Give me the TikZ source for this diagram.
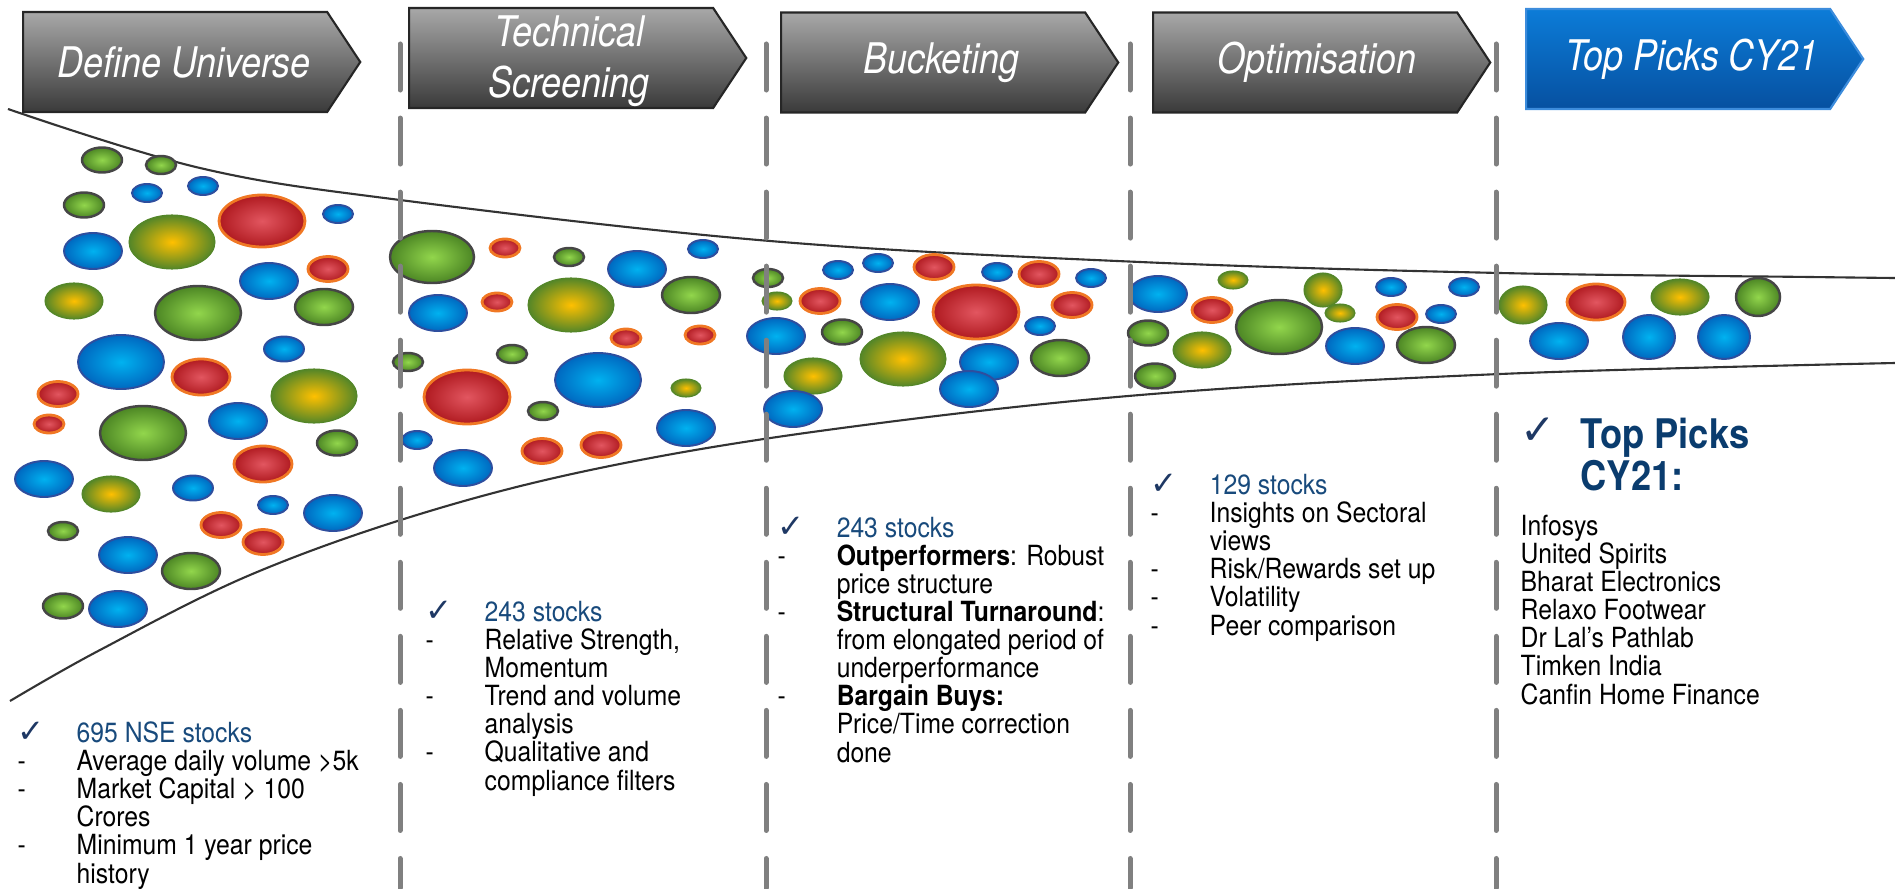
\documentclass[tikz,border=0pt]{standalone}
\usepackage{fontspec}
\setmainfont{TeX Gyre Heros}
\newfontfamily\bodyfont{TeX Gyre Heros}[FakeStretch=0.89]
\newfontfamily\headfont{TeX Gyre Heros}[FakeStretch=0.85]
\newfontfamily\symfont{DejaVu Sans}
\usetikzlibrary{shapes.symbols}

\definecolor{stagetop}{RGB}{168,168,168}
\definecolor{stagebot}{RGB}{58,58,58}
\definecolor{picktop}{RGB}{12,124,216}
\definecolor{pickbot}{RGB}{6,80,160}
\definecolor{pickedge}{RGB}{60,140,220}
\definecolor{sepgray}{RGB}{128,128,128}
\definecolor{stockblue}{RGB}{24,74,124}
\definecolor{picknavy}{RGB}{10,60,110}
\definecolor{checknavy}{RGB}{30,56,100}
\definecolor{bubbin}{RGB}{0,178,240}
\definecolor{bubbout}{RGB}{0,104,192}
\definecolor{bubbedge}{RGB}{46,78,158}
\definecolor{bubgin}{RGB}{146,214,76}
\definecolor{bubgout}{RGB}{76,134,36}
\definecolor{bubgedge}{RGB}{70,70,70}
\definecolor{bubyin}{RGB}{255,192,0}
\definecolor{bubyout}{RGB}{84,134,40}
\definecolor{bubrin}{RGB}{226,86,96}
\definecolor{bubrout}{RGB}{176,26,32}
\definecolor{bubredge}{RGB}{240,120,36}

\newcommand\chk{{\symfont\fontsize{9.2}{7.97}\selectfont\color{checknavy}\symbol{"2713}}}
\newcommand\itm[2]{\makebox[0.59cm][l]{#1}#2}

\begin{document}
\begin{tikzpicture}[x=0.01cm, y=-0.01cm,
		stage/.style={
			signal, signal to=east, signal pointer angle=113,
			draw=black!85, line width=0.6pt,
			top color=stagetop, bottom color=stagebot,
			minimum width=3.37cm, minimum height=1cm,
			inner sep=0pt, anchor=west
		},
		finalstage/.style={stage, draw=pickedge, top color=picktop, bottom color=pickbot},
		stagetext/.style={inner sep=0pt, text=white, align=center,
			font=\headfont\itshape\fontsize{12}{14.6}\selectfont},
		infotext/.style={anchor=base west, inner sep=0pt, align=left,
			font=\bodyfont\fontsize{7.9}{7.97}\selectfont},
		sepline/.style={draw=sepgray, line width=0.05cm, line cap=round,
			dash pattern=on 0.46cm off 0.28cm},
		funnel/.style={draw=black!80, line width=0.6pt},
		bubb/.style={draw=bubbedge, line width=0.55pt, inner color=bubbin, outer color=bubbout},
		bubg/.style={draw=bubgedge, line width=0.7pt, inner color=bubgin, outer color=bubgout},
		buby/.style={draw=bubyout, line width=0.3pt, inner color=bubyin, outer color=bubyout},
		bubr/.style={draw=bubredge, line width=0.8pt, inner color=bubrin, outer color=bubrout}
	]
	\useasboundingbox (0,0) rectangle (1895,888);

	% funnel
	\draw[funnel] plot[smooth, tension=0.6] coordinates {(8,109) (200,168) (400,200) (770,241) (1140,262) (1500,273) (1810,277) (1895,278)};
	\draw[funnel] plot[smooth, tension=0.6] coordinates {(10,701) (100,650) (250,575) (420,514) (600,468) (827,430) (1140,395) (1500,374) (1895,363)};

	% stocks
	\foreach \bx/\by/\rx/\ry/\bt in {
		102/160/20/12.5/g, 161/165/15/9/g, 147/193/15/9/b, 203/186/15/9/b, 84/205/20/12.5/g,
		262/221/43/26/r, 338/214/15/9/b, 93/251/29/18/b, 172/242/43/27/y, 269/281/29/18/b,
		328/269/20/12.5/r, 74/301/29/18/y, 198/313/43/27/g, 324/307/29/18/g, 121/362/43/27/b,
		284/349/20/12.5/b, 201/377/29/18/r, 314/396/43/27/y, 58/394/20/12.5/r, 49/424/15/9/r,
		143/433/43/27/g, 238/421/29/18/b, 337/443/20/12.5/g, 263/464/29/18/r, 44/479/29/18/b,
		111/494/29/18/y, 193/488/20/12.5/b, 273/505/15/9/b, 333/513/29/18/b, 221/525/20/12.5/r,
		263/542/20/12.5/r, 63/531/15/9/g, 128/555/29/18/b, 191/571/29/18/g, 63/606/20/12.5/g,
		118/609/29/18/b,
		432/257/42/26/g, 505/248/15/9/r, 569/257/15/9/g, 637/269/29/18/b, 703/249/15/9/b,
		438/313/29/18/b, 497/302/15/9/r, 571/305/43/27/y, 691/295/29/18/g, 626/338/15/9/r,
		700/335/15/9/r, 512/354/15/9/g, 408/362/15/9/g, 467/397/43/27/r, 598/380/43/27/b,
		686/388/15/9/y, 543/411/15/9/g, 417/440/15/9/b, 686/428/29/18/b, 542/451/20/12.5/r,
		601/445/20/12.5/r, 463/468/29/18/b,
		768/278/15/9/g, 838/270/15/9/b, 878/263/15/9/b, 934/267/20/12.5/r, 997/272/15/9/b,
		1039/274/20/12.5/r, 1091/278/15/9/b, 777/301/15/9/y, 820/301/20/12.5/r, 890/302/29/18/b,
		976/312/43/27/r, 1072/305/20/12.5/r, 1040/326/15/9/b, 776/336/29/18/b, 842/332/20/12.5/g,
		903/359/43/27/y, 989/362/29/18/b, 1060/358/29/18/g, 813/376/29/18/y, 969/389/29/18/b,
		793/409/29/18/b,
		1158/294/29/18/b, 1233/280/15/9/y, 1212/310/20/12.5/r, 1148/333/20/12.5/g, 1202/350/29/18/y,
		1279/327/43/27/g, 1323/290/19/17/y, 1340/313/15/9/y, 1391/287/15/9/b, 1464/287/15/9/b,
		1397/317/20/12.5/r, 1441/314/15/9/b, 1355/346/29/18/b, 1426/345/29/18/g, 1155/376/20/12.5/g,
		1523/305/24/19/y, 1596/302/29/18/r, 1680/297/29/18/y, 1758/297/22/19/g, 1559/341/29/18/b,
		1649/337/26/22/b, 1724/337/26/22/b}
		\path[bub\bt] (\bx,\by) ellipse [x radius=\rx, y radius=\ry];

	% separators
	\foreach \xs in {400,766,1130,1496}
		\draw[sepline] (\xs,44) -- (\xs,888);

	% stages
	\node[stage] (universe) at (22,62) {};
	\node[stage] (screening) at (408,58) {};
	\node[stage] (bucketing) at (780,62.5) {};
	\node[stage] (optimisation) at (1152,62.5) {};
	\node[finalstage] (toppicks) at (1525,59) {};

	\node[stagetext] (universelbl) at ([xshift=0.09cm] universe.center) {Define Universe};
	\node[stagetext] (screeninglbl) at ([xshift=0.08cm, yshift=-0.03cm] screening.center) {Technical\\Screening};
	\node[stagetext] (bucketinglbl) at ([xshift=0.08cm] bucketing.center) {Bucketing};
	\node[stagetext] (optimisationlbl) at ([xshift=0.12cm] optimisation.center) {Optimisation};
	\node[stagetext] (toppickslbl) at ([xshift=0.14cm] toppicks.center) {Top Picks CY21};

	% notes
	\node[infotext] (universetxt) at (17,883) {
		\itm{\chk}{\textcolor{stockblue}{695 NSE stocks}}\\
		\itm{-}{Average daily volume >5k}\\
		\itm{-}{Market Capital > 100}\\
		\itm{}{Crores}\\
		\itm{-}{Minimum 1 year price}\\
		\itm{}{history}};
	\node[infotext] (screeningtxt) at (425,790) {
		\itm{\chk}{\textcolor{stockblue}{243 stocks}}\\
		\itm{-}{Relative Strength,}\\
		\itm{}{Momentum}\\
		\itm{-}{Trend and volume}\\
		\itm{}{analysis}\\
		\itm{-}{Qualitative and}\\
		\itm{}{compliance filters}};
	\node[infotext] (bucketingtxt) at (777,762) {
		\itm{\chk}{\textcolor{stockblue}{243 stocks}}\\
		\itm{-}{\textbf{Outperformers}: Robust}\\
		\itm{}{price structure}\\
		\itm{-}{\textbf{Structural Turnaround}:}\\
		\itm{}{from elongated period of}\\
		\itm{}{underperformance}\\
		\itm{-}{\textbf{Bargain Buys:}}\\
		\itm{}{Price/Time correction}\\
		\itm{}{done}};
	\node[infotext] (optimisationtxt) at (1150,635) {
		\itm{\chk}{\textcolor{stockblue}{129 stocks}}\\
		\itm{-}{Insights on Sectoral}\\
		\itm{}{views}\\
		\itm{-}{Risk/Rewards set up}\\
		\itm{-}{Volatility}\\
		\itm{-}{Peer comparison}};

	\node[anchor=base west, inner sep=0pt, text=checknavy, font=\symfont\fontsize{12}{12}\selectfont] (pickchk) at (1520,444) {\symbol{"2713}};
	\node[anchor=base west, inner sep=0pt, align=left, text=picknavy, font=\bodyfont\bfseries\fontsize{11.6}{11.7}\selectfont] (picktitle) at (1580,490) {Top Picks\\CY21:};
	\node[infotext] (picklist) at (1520,704) {Infosys\\United Spirits\\Bharat Electronics\\Relaxo Footwear\\Dr Lal’s Pathlab\\Timken India\\Canfin Home Finance};
\end{tikzpicture}
\end{document}
